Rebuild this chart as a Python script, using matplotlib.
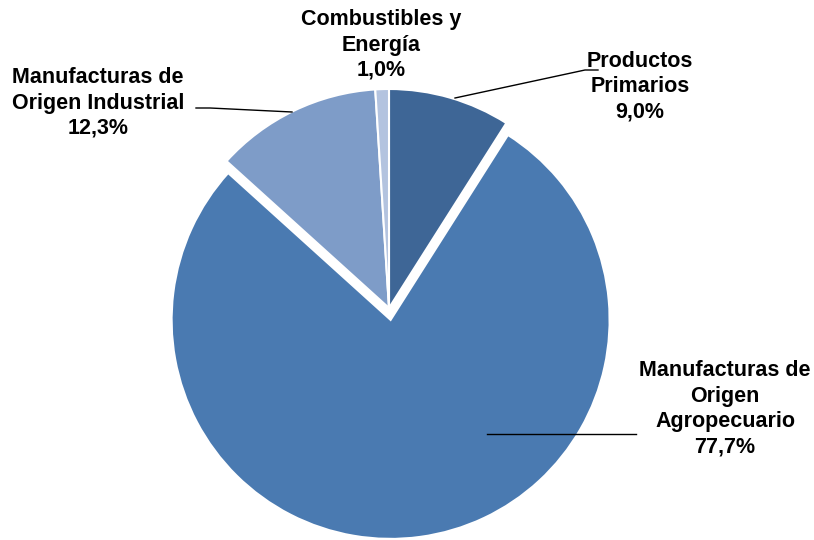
import matplotlib.pyplot as plt

categorias = ["Productos\nPrimarios", "Manufacturas de\nOrigen\nAgropecuario",
              "Manufacturas de\nOrigen Industrial", "Combustibles y\nEnergía"]
valores = [9.0, 77.7, 12.3, 1.0]
colores = ["#3E6696", "#4A7AB1", "#7E9CC8", "#B3C3DF"]

H = 540
fig = plt.figure(figsize=(8.14, 5.4), dpi=100)
ax = fig.add_axes([0, 0, 1, 1])

cx, cy, r = 389, 308, 219
# explode va en unidades de datos (pixeles aqui)
ax.pie(valores, colors=colores, startangle=90, counterclock=False,
       center=(cx, H - cy), radius=r, explode=[0, 12, 0, 0],
       wedgeprops=dict(edgecolor="white", linewidth=1.5))
ax.set_xlim(0, 814)
ax.set_ylim(0, H)
ax.set_aspect("equal")
ax.axis("off")

fuente = dict(fontsize=15.5, fontweight="bold", family="Liberation Sans",
              ha="center", va="center", linespacing=1.28)

# etiquetas: (x texto, y texto, linea guia) en pixeles desde arriba
pos = [
    (640, 87, [(455, 98), (585, 70), (598, 70)]),
    (725, 409, [(487, 434), (636, 434)]),
    (98, 103, [(196, 108), (210, 108), (292, 112)]),
    (381, 45, None),
]
for cat, val, (tx, ty, guia) in zip(categorias, valores, pos):
    txt = f"{cat}\n{val:.1f}%".replace(".", ",")
    ax.text(tx, H - ty, txt, **fuente)
    if guia:
        xs, ys = zip(*guia)
        ax.plot(xs, [H - y for y in ys], color="black", lw=1.0)

fig.savefig("out.png", dpi=100)
